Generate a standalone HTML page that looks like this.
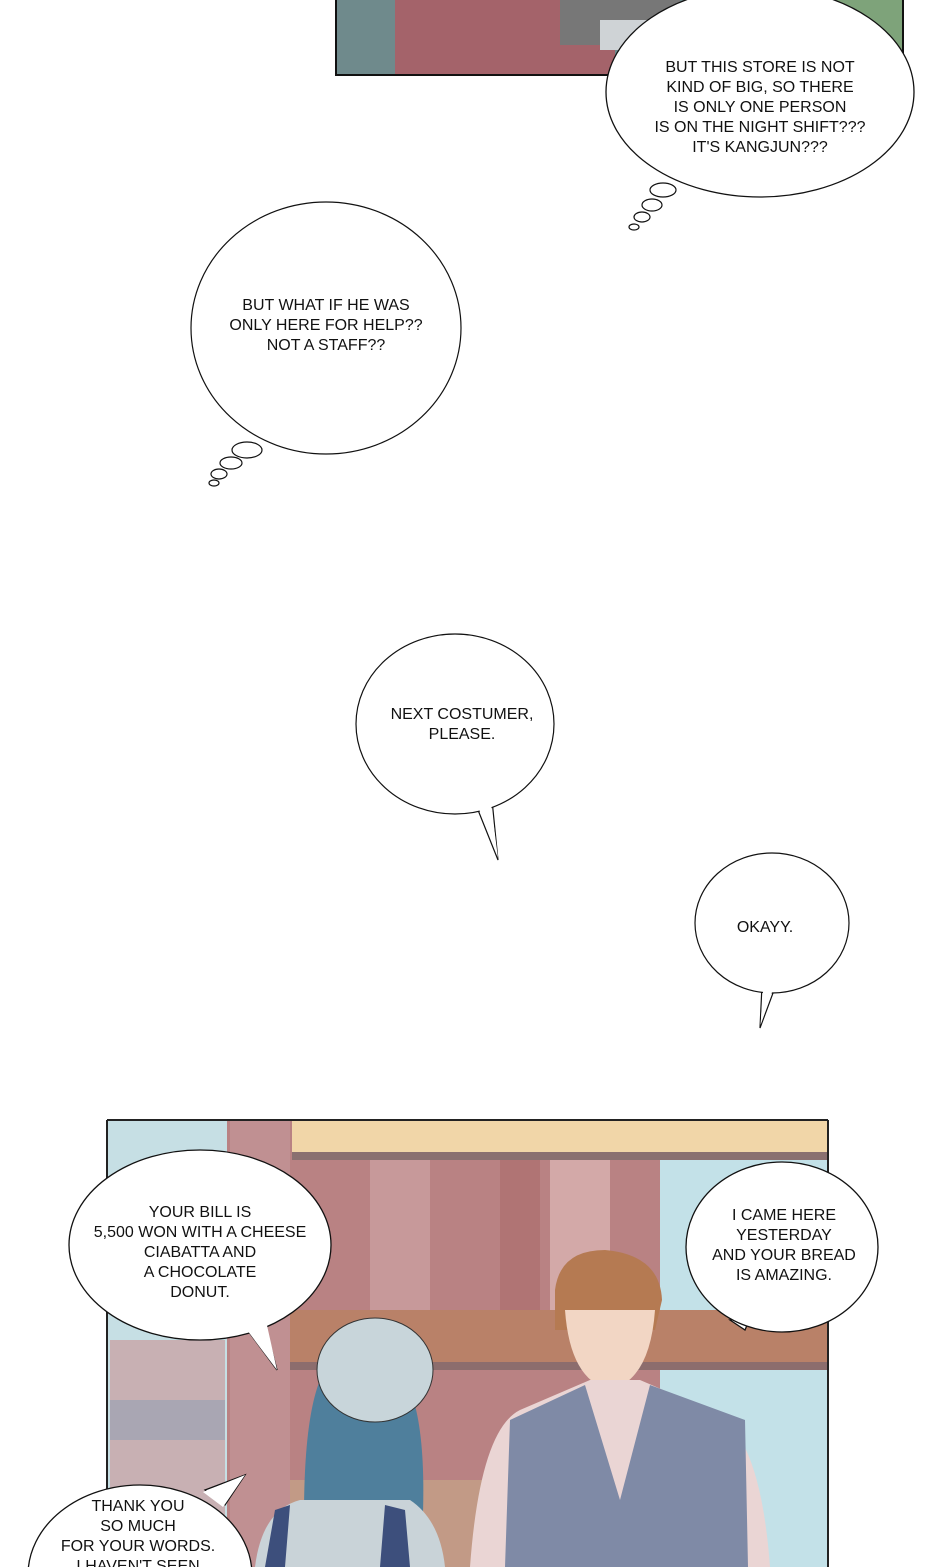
<!DOCTYPE html>
<html><head><meta charset="utf-8"><style>
html,body{margin:0;padding:0;background:#fff;width:940px;height:1567px;overflow:hidden}
svg{display:block}
text{font-family:"Liberation Sans",sans-serif;font-size:16px;fill:#111;text-anchor:middle}
</style></head><body>
<svg width="940" height="1567" viewBox="0 0 940 1567">
<rect x="336" y="0" width="567" height="75" fill="#6f8a8c"/>
<rect x="395" y="0" width="220" height="75" fill="#a4636a"/>
<rect x="560" y="0" width="120" height="45" fill="#777"/>
<rect x="600" y="20" width="140" height="30" fill="#cfd3d6"/>
<rect x="820" y="0" width="83" height="50" fill="#7ea37a"/>
<path d="M336 0V75H903V0" fill="none" stroke="#111" stroke-width="2"/>
<ellipse cx="760" cy="92" rx="154" ry="105" fill="#fff" stroke="#111" stroke-width="1.3"/>
<text x="760" y="72">BUT THIS STORE IS NOT</text>
<text x="760" y="92">KIND OF BIG, SO THERE</text>
<text x="760" y="112">IS ONLY ONE PERSON</text>
<text x="760" y="132">IS ON THE NIGHT SHIFT???</text>
<text x="760" y="152">IT'S KANGJUN???</text>
<g fill="#fff" stroke="#111" stroke-width="1.2">
<ellipse cx="663" cy="190" rx="13" ry="7"/><ellipse cx="652" cy="205" rx="10" ry="6"/><ellipse cx="642" cy="217" rx="8" ry="5"/><ellipse cx="634" cy="227" rx="5" ry="3"/>
<ellipse cx="326" cy="328" rx="135" ry="126"/>
<ellipse cx="247" cy="450" rx="15" ry="8"/><ellipse cx="231" cy="463" rx="11" ry="6"/><ellipse cx="219" cy="474" rx="8" ry="5"/><ellipse cx="214" cy="483" rx="5" ry="3"/>
<path d="M474 800 L498 860 L492 800Z"/>
<ellipse cx="455" cy="724" rx="99" ry="90"/>
<path d="M475.5 800 L498 858 L490.5 800Z" stroke="none"/>
<path d="M762 985 L760 1028 L776 985Z"/>
<ellipse cx="772" cy="923" rx="77" ry="70"/>
<path d="M763.5 985 L760.5 1025 L774.5 985Z" stroke="none"/>
</g>
<text x="326" y="310">BUT WHAT IF HE WAS</text>
<text x="326" y="330">ONLY HERE FOR HELP??</text>
<text x="326" y="350">NOT A STAFF??</text>
<text x="462" y="719">NEXT COSTUMER,</text>
<text x="462" y="739">PLEASE.</text>
<text x="765" y="932">OKAYY.</text>
<rect x="107" y="1120" width="721" height="447" fill="#b98283"/>
<rect x="107" y="1120" width="120" height="447" fill="#c6dfe4"/>
<rect x="230" y="1120" width="60" height="447" fill="#c09092"/>
<rect x="292" y="1120" width="536" height="40" fill="#f1d6a8"/>
<rect x="292" y="1152" width="536" height="8" fill="#8a7070"/>
<rect x="370" y="1160" width="60" height="160" fill="#c7999a"/>
<rect x="500" y="1160" width="40" height="160" fill="#b07474"/>
<rect x="550" y="1160" width="60" height="160" fill="#d3a9a8"/>
<rect x="660" y="1160" width="168" height="160" fill="#c3e1e8"/>
<rect x="290" y="1310" width="538" height="55" fill="#b98168"/>
<rect x="290" y="1362" width="538" height="8" fill="#8c6d6d"/>
<rect x="660" y="1370" width="168" height="197" fill="#c3e1e8"/>
<rect x="110" y="1340" width="115" height="220" fill="#c8b0b3"/>
<rect x="110" y="1400" width="115" height="40" fill="#a9a6b3"/>
<rect x="290" y="1480" width="400" height="87" fill="#c29a86"/>
<path d="M320 1380 Q300 1430 305 1567 H420 Q430 1440 410 1390Z" fill="#4f7f9c"/>
<ellipse cx="375" cy="1370" rx="58" ry="52" fill="#c8d5da" stroke="#333"/>
<path d="M255 1567 Q262 1510 300 1500 L410 1500 Q440 1520 445 1567Z" fill="#c9d3d8"/>
<path d="M265 1567 L275 1510 L290 1505 L285 1567Z M380 1567 L385 1505 L405 1510 L410 1567Z" fill="#3d4f7c"/>
<path d="M555 1290 Q560 1250 605 1250 Q660 1255 662 1300 L655 1330 L555 1330Z" fill="#b57a52"/>
<path d="M565 1310 Q570 1380 610 1390 Q650 1380 655 1310Z" fill="#f2d6c4"/>
<path d="M470 1567 Q480 1430 520 1410 L590 1380 L640 1380 L710 1410 Q760 1430 770 1567Z" fill="#ead5d4"/>
<path d="M505 1567 L510 1420 L585 1385 L620 1500 L650 1385 L745 1420 L748 1567Z" fill="#7f8aa6"/>
<path d="M107 1120 V1567 M828 1120 V1567 M107 1120 H828" stroke="#222" stroke-width="2" fill="none"/>
<g fill="#fff" stroke="#111" stroke-width="1.3">
<path d="M240 1320 L277 1370 L262 1313Z"/>
<ellipse cx="200" cy="1245" rx="131" ry="95"/>
<path d="M238 1318 L277 1370 L264 1312Z" stroke="none"/>
<path d="M730 1320 L745 1330 L750 1318Z"/>
<ellipse cx="782" cy="1247" rx="96" ry="85"/>
<path d="M205 1490 L245 1475 L225 1505Z"/>
<ellipse cx="140" cy="1575" rx="112" ry="90"/>
<path d="M203 1492 L245 1475 L223 1507Z" stroke="none"/>
</g>
<text x="200" y="1217">YOUR BILL IS</text>
<text x="200" y="1237">5,500 WON WITH A CHEESE</text>
<text x="200" y="1257">CIABATTA AND</text>
<text x="200" y="1277">A CHOCOLATE</text>
<text x="200" y="1297">DONUT.</text>
<text x="784" y="1220">I CAME HERE</text>
<text x="784" y="1240">YESTERDAY</text>
<text x="784" y="1260">AND YOUR BREAD</text>
<text x="784" y="1280">IS AMAZING.</text>
<text x="138" y="1511">THANK YOU</text>
<text x="138" y="1531">SO MUCH</text>
<text x="138" y="1551">FOR YOUR WORDS.</text>
<text x="138" y="1571">I HAVEN'T SEEN</text>
</svg>
</body></html>
